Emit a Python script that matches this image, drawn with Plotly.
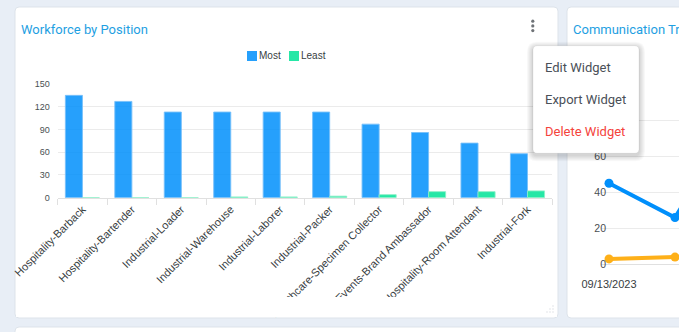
import plotly.graph_objects as go

# ---- data -------------------------------------------------------------
positions = [
    "Hospitality-Barback", "Hospitality-Bartender", "Industrial-Loader",
    "Industrial-Warehouse", "Industrial-Laborer", "Industrial-Packer",
    "Healthcare-Specimen Collector", "Events-Brand Ambassador",
    "Hospitality-Room Attendant", "Industrial-Fork",
]
most = [135, 127, 113, 113, 113, 113, 97, 86, 72, 58]
least = [0, 0, 0, 1, 1, 2, 4, 8, 8, 9]

comm_dates = ["09/13/2023", "09/14/2023", "09/15/2023"]
comm_sent = [45, 26, 85]
comm_failed = [3, 4, 4]
comm_ticks = [0, 20, 40, 60, 80, 100]

menu_items = ["Edit Widget", "Export Widget", "Delete Widget"]

# ---- styling ----------------------------------------------------------
W, H = 679, 332
BLUE, GREEN, ORANGE = "#008FFB", "#00E396", "#FEB019"
BLUE_FILL = "rgba(0,143,251,0.85)"
GREEN_FILL = "rgba(0,227,150,0.85)"
PAGE_BG = "#e8eef6"
CARD_LINE = "#dde3ea"
TITLE_C = "#1ea0e2"
AX_FONT = "Liberation Sans, Arial, sans-serif"
UI_FONT = "Roboto, Arial, sans-serif"
GRID = "#ebebeb"


def px(x):
    return x / W


def py(y):
    return 1 - y / H


def rrect(x0, y0, x1, y1, r):
    """Rounded rectangle path in paper coordinates from pixel corners."""
    return (
        f"M{px(x0 + r)},{py(y0)} L{px(x1 - r)},{py(y0)} "
        f"Q{px(x1)},{py(y0)} {px(x1)},{py(y0 + r)} "
        f"L{px(x1)},{py(y1 - r)} Q{px(x1)},{py(y1)} {px(x1 - r)},{py(y1)} "
        f"L{px(x0 + r)},{py(y1)} Q{px(x0)},{py(y1)} {px(x0)},{py(y1 - r)} "
        f"L{px(x0)},{py(y0 + r)} Q{px(x0)},{py(y0)} {px(x0 + r)},{py(y0)} Z"
    )


fig = go.Figure()

# ---- workforce bar chart ---------------------------------------------
fig.add_trace(go.Bar(
    x=positions, y=most, name="Most", xaxis="x", yaxis="y",
    marker=dict(color=BLUE_FILL, line=dict(color="rgba(120,192,250,0.9)", width=1)),
    hoverinfo="skip",
))
fig.add_trace(go.Bar(
    x=positions, y=least, name="Least", xaxis="x", yaxis="y",
    marker=dict(color=GREEN_FILL, line=dict(color="rgba(140,240,200,0.9)", width=1)),
    hoverinfo="skip",
))

# ---- communication line chart ----------------------------------------
idx = list(range(len(comm_dates)))
fig.add_trace(go.Scatter(
    x=idx, y=comm_sent, name="Sent", mode="lines+markers", xaxis="x2", yaxis="y2",
    line=dict(color=BLUE, width=4), marker=dict(color=BLUE, size=9),
    hoverinfo="skip",
))
fig.add_trace(go.Scatter(
    x=idx, y=comm_failed, name="Failed", mode="lines+markers", xaxis="x2", yaxis="y2",
    line=dict(color=ORANGE, width=4), marker=dict(color=ORANGE, size=9),
    hoverinfo="skip",
))

shapes = []
# cards
shapes.append(dict(type="path", path=rrect(15, 7, 558, 318, 4), xref="paper", yref="paper",
                   fillcolor="white", line=dict(color=CARD_LINE, width=1), layer="below"))
shapes.append(dict(type="path", path=rrect(567, 7, 700, 318, 4), xref="paper", yref="paper",
                   fillcolor="white", line=dict(color=CARD_LINE, width=1), layer="below"))
shapes.append(dict(type="path", path=rrect(15, 327, 700, 360, 4), xref="paper", yref="paper",
                   fillcolor="white", line=dict(color=CARD_LINE, width=1), layer="below"))

# chart canvas ends before the card bottom, cutting long labels
shapes.append(dict(type="rect", xref="paper", yref="paper",
                   x0=px(16), x1=px(557), y0=py(317), y1=py(297),
                   fillcolor="white", line=dict(width=0), layer="above"))

# legend swatches
shapes.append(dict(type="rect", xref="paper", yref="paper", x0=px(247), x1=px(257),
                   y0=py(61), y1=py(51), fillcolor=BLUE_FILL, line=dict(width=0)))
shapes.append(dict(type="rect", xref="paper", yref="paper", x0=px(289), x1=px(299),
                   y0=py(61), y1=py(51), fillcolor=GREEN_FILL, line=dict(width=0)))

# kebab icon
for cy in (21.2, 25.9, 30.6):
    shapes.append(dict(type="circle", xref="paper", yref="paper",
                       x0=px(531.2), x1=px(534.4), y0=py(cy + 1.6), y1=py(cy - 1.6),
                       fillcolor="#6f7377", line=dict(width=0)))

# resize grip
for gx, gy in [(553, 306), (550, 309), (553, 309), (547, 312), (550, 312), (553, 312)]:
    shapes.append(dict(type="rect", xref="paper", yref="paper",
                       x0=px(gx - 0.6), x1=px(gx + 0.6), y0=py(gy + 0.6), y1=py(gy - 0.6),
                       fillcolor="#cfd4da", line=dict(width=0), layer="above"))

# dropdown menu with soft shadow
for i in range(1, 7):
    shapes.append(dict(type="path", path=rrect(533 - i, 45.7 - i + 2, 639 + i, 153.3 + i + 2, 4 + i),
                       xref="paper", yref="paper", fillcolor="rgba(0,0,0,0.028)",
                       line=dict(width=0), layer="above"))
shapes.append(dict(type="path", path=rrect(533, 45.7, 639, 153.3, 4), xref="paper", yref="paper",
                   fillcolor="white", line=dict(color="rgba(0,0,0,0.06)", width=1), layer="above"))

annotations = [
    dict(text="Workforce by Position", x=px(18.5), y=py(29.5), xref="paper", yref="paper",
         xanchor="left", yanchor="middle", showarrow=False,
         font=dict(family=UI_FONT, size=13, color=TITLE_C)),
    dict(text="Communication Trends", x=px(571), y=py(29.5), xref="paper", yref="paper",
         xanchor="left", yanchor="middle", showarrow=False,
         font=dict(family=UI_FONT, size=13, color=TITLE_C)),
    dict(text="Most", x=px(256.5), y=py(56), xref="paper", yref="paper",
         xanchor="left", yanchor="middle", showarrow=False,
         font=dict(family=AX_FONT, size=10, color="#373d3f")),
    dict(text="Least", x=px(298.5), y=py(56), xref="paper", yref="paper",
         xanchor="left", yanchor="middle", showarrow=False,
         font=dict(family=AX_FONT, size=10, color="#373d3f")),
]
for label, cy in zip(menu_items, (67.7, 99.3, 131)):
    annotations.append(dict(
        text=label, x=px(542.5), y=py(cy), xref="paper", yref="paper",
        xanchor="left", yanchor="middle", showarrow=False,
        font=dict(family=UI_FONT, size=13,
                  color="#f4433c" if label.startswith("Delete") else "#4a5058"),
    ))

# labels for 80 and 100 sit under the open menu
comm_ticktext = [str(v) if v <= 60 else "" for v in comm_ticks]

fig.update_layout(
    width=W, height=H, autosize=False,
    margin=dict(l=0, r=0, t=0, b=0, pad=0, autoexpand=False),
    paper_bgcolor=PAGE_BG, plot_bgcolor="rgba(0,0,0,0)",
    showlegend=False, barmode="group", bargap=0.31, bargroupgap=0,
    shapes=shapes, annotations=annotations,
    xaxis=dict(domain=[px(57.7), px(552.2)], anchor="y", type="category", automargin=False,
               tickson="boundaries", ticks="outside", ticklen=6, tickcolor="#e0e0e0",
               showline=True, linecolor="#e0e0e0", showgrid=False, tickangle=-45,
               tickfont=dict(family=AX_FONT, size=11, color="#373d3f"), fixedrange=True),
    yaxis=dict(domain=[py(197.7), py(84)], anchor="x", range=[0, 150], dtick=30, automargin=False,
               showgrid=True, gridcolor=GRID, zeroline=False, ticks="", ticklabelstandoff=7,
               tickfont=dict(family=AX_FONT, size=9, color="#4a4f52"), fixedrange=True),
    xaxis2=dict(domain=[px(601), 1.0], anchor="y2", range=[-8 / 66, 1 + 4 / 66], automargin=False,
                tickvals=idx, ticktext=comm_dates, showgrid=False, zeroline=False,
                showline=True, linecolor="#e0e0e0", ticks="", ticklabelstandoff=9,
                tickfont=dict(family=AX_FONT, size=11, color="#373d3f"), fixedrange=True),
    yaxis2=dict(domain=[py(264.3), py(84.3)], anchor="x2", range=[0, 100], automargin=False,
                tickvals=comm_ticks, ticktext=comm_ticktext,
                showgrid=True, gridcolor=GRID, zeroline=False, ticks="", ticklabelstandoff=-6,
                tickfont=dict(family=AX_FONT, size=10.5, color="#4a4f52"), fixedrange=True),
)

fig.write_html("out.html", config={"displayModeBar": False})
